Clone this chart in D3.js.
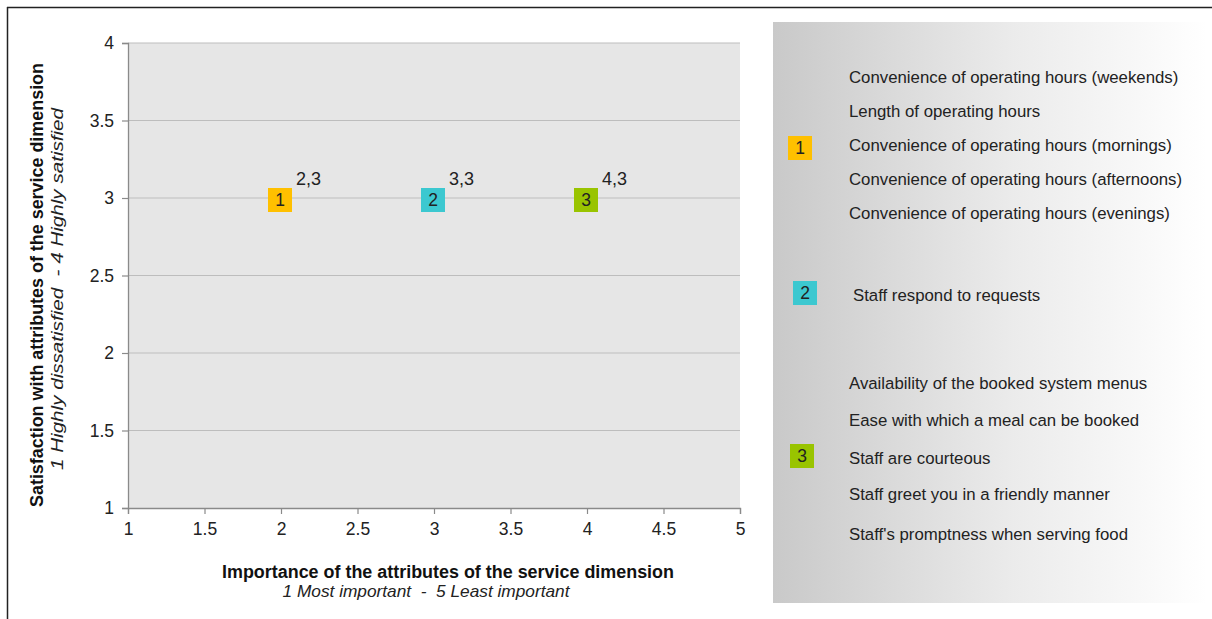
<!DOCTYPE html>
<html>
<head>
<meta charset="utf-8">
<script src="https://cdn.jsdelivr.net/npm/d3@7"></script>
<style>
  html, body { margin: 0; padding: 0; background: #fff; }
  svg { display: block; font-family: "Liberation Sans", Arial, sans-serif; }
</style>
</head>
<body>
<svg id="chart" width="1212" height="619"></svg>
<script>
// Service-dimension groups: importance (x) vs satisfaction (y)
const groupIds = [1, 2, 3];
const importance = [2, 3, 4];
const satisfaction = [3, 3, 3];
const pointLabels = ["2,3", "3,3", "4,3"];
const groupColors = ["#ffc000", "#3cc8d0", "#99c400"];

const xTicks = [1, 1.5, 2, 2.5, 3, 3.5, 4, 4.5, 5];
const yTicks = [1, 1.5, 2, 2.5, 3, 3.5, 4];

const attrsGroup1 = [
  "Convenience of operating hours (weekends)",
  "Length of operating hours",
  "Convenience of operating hours (mornings)",
  "Convenience of operating hours (afternoons)",
  "Convenience of operating hours (evenings)"
];
const attrsGroup2 = ["Staff respond to requests"];
const attrsGroup3 = [
  "Availability of the booked system menus",
  "Ease with which a meal can be booked",
  "Staff are courteous",
  "Staff greet you in a friendly manner",
  "Staff's promptness when serving food"
];

const svg = d3.select("#chart");

// outer frame (top and left edges visible)
svg.append("line").attr("x1", 7).attr("y1", 7.5).attr("x2", 1212).attr("y2", 7.5)
  .attr("stroke", "#222").attr("stroke-width", 1.5);
svg.append("line").attr("x1", 7.5).attr("y1", 7).attr("x2", 7.5).attr("y2", 619)
  .attr("stroke", "#222").attr("stroke-width", 1.5);

const plot = { left: 128, right: 740, top: 43, bottom: 508 };
const x = d3.scaleLinear().domain([1, 5]).range([plot.left, plot.right]);
const y = d3.scaleLinear().domain([1, 4]).range([plot.bottom, plot.top]);

// plot background
svg.append("rect")
  .attr("x", plot.left).attr("y", plot.top)
  .attr("width", plot.right - plot.left).attr("height", plot.bottom - plot.top)
  .attr("fill", "#e6e6e6");

// horizontal gridlines
svg.append("g").selectAll("line")
  .data(yTicks.filter(d => d > 1))
  .join("line")
  .attr("x1", plot.left).attr("x2", plot.right)
  .attr("y1", d => y(d)).attr("y2", d => y(d))
  .attr("stroke", "#bdbdbd").attr("stroke-width", 1.2);

// axes
const xAxis = svg.append("g")
  .attr("transform", `translate(0,${plot.bottom})`)
  .call(d3.axisBottom(x).tickValues(xTicks).tickFormat(d3.format("")).tickSize(6).tickPadding(5));
const yAxis = svg.append("g")
  .attr("transform", `translate(${plot.left},0)`)
  .call(d3.axisLeft(y).tickValues(yTicks).tickFormat(d3.format("")).tickSize(6).tickPadding(8));

[xAxis, yAxis].forEach(a => {
  a.select(".domain").attr("stroke", "#8a8a8a").attr("stroke-width", 1.3);
  a.selectAll(".tick line").attr("stroke", "#8a8a8a").attr("stroke-width", 1.2);
  a.selectAll(".tick text").attr("fill", "#222").attr("font-size", 17.5)
    .attr("font-family", "'Liberation Sans', Arial, sans-serif");
});
xAxis.selectAll(".tick text").attr("dy", "0.9em");

// axis titles
svg.append("text")
  .attr("x", 448).attr("y", 578)
  .attr("text-anchor", "middle").attr("font-size", 17.5).attr("font-weight", "bold").attr("fill", "#111")
  .attr("textLength", 452).attr("lengthAdjust", "spacingAndGlyphs")
  .text("Importance of the attributes of the service dimension");
svg.append("text")
  .attr("x", 426).attr("y", 597)
  .attr("text-anchor", "middle").attr("font-size", 16.5).attr("font-style", "italic").attr("fill", "#222")
  .attr("xml:space", "preserve")
  .attr("textLength", 287).attr("lengthAdjust", "spacingAndGlyphs")
  .text("1 Most important  -  5 Least important");

svg.append("text")
  .attr("transform", "translate(43,285) rotate(-90)")
  .attr("text-anchor", "middle").attr("font-size", 17.5).attr("font-weight", "bold").attr("fill", "#111")
  .attr("textLength", 444).attr("lengthAdjust", "spacingAndGlyphs")
  .text("Satisfaction with attributes of the service dimension");
svg.append("text")
  .attr("transform", "translate(63,289) rotate(-90)")
  .attr("text-anchor", "middle").attr("font-size", 17).attr("font-style", "italic").attr("fill", "#222")
  .attr("xml:space", "preserve")
  .attr("textLength", 362).attr("lengthAdjust", "spacingAndGlyphs")
  .text("1 Highly dissatisfied  - 4 Highly satisfied");

// point markers
const points = groupIds.map((id, i) => ({
  id, x: importance[i], y: satisfaction[i], label: pointLabels[i], color: groupColors[i]
}));
const markerSize = 24;
const pg = svg.append("g").selectAll("g").data(points).join("g")
  .attr("transform", d => `translate(${x(d.x) - 1},${y(d.y) + 2})`);
pg.append("rect")
  .attr("x", -markerSize / 2).attr("y", -markerSize / 2)
  .attr("width", markerSize).attr("height", markerSize)
  .attr("fill", d => d.color);
pg.append("text")
  .attr("text-anchor", "middle").attr("dy", "0.36em")
  .attr("font-size", 17.5).attr("fill", "#222")
  .text(d => d.id);
pg.append("text")
  .attr("x", 16).attr("y", -15)
  .attr("font-size", 18).attr("fill", "#222")
  .text(d => d.label);

// legend panel with horizontal gradient
const defs = svg.append("defs");
const grad = defs.append("linearGradient").attr("id", "panelGrad")
  .attr("x1", "0%").attr("x2", "100%").attr("y1", "0%").attr("y2", "0%");
grad.append("stop").attr("offset", "0%").attr("stop-color", "#c9c9c9");
grad.append("stop").attr("offset", "55%").attr("stop-color", "#ebebeb");
grad.append("stop").attr("offset", "100%").attr("stop-color", "#ffffff");
svg.append("rect")
  .attr("x", 773).attr("y", 22).attr("width", 434).attr("height", 581)
  .attr("fill", "url(#panelGrad)");

const legendGroups = [
  { id: 1, color: groupColors[0], items: attrsGroup1, ys: [77, 111, 145, 179, 213], mx: 800, my: 148, tx: 849 },
  { id: 2, color: groupColors[1], items: attrsGroup2, ys: [295], mx: 805, my: 293, tx: 853 },
  { id: 3, color: groupColors[2], items: attrsGroup3, ys: [383, 420, 458, 494, 534], mx: 802, my: 456, tx: 849 }
];
const lg = svg.append("g").selectAll("g").data(legendGroups).join("g");
lg.append("rect")
  .attr("x", d => d.mx - 12).attr("y", d => d.my - 12)
  .attr("width", 24).attr("height", 24)
  .attr("fill", d => d.color);
lg.append("text")
  .attr("x", d => d.mx).attr("y", d => d.my).attr("dy", "0.36em")
  .attr("text-anchor", "middle").attr("font-size", 17.5).attr("fill", "#222")
  .text(d => d.id);
lg.each(function(d) {
  d3.select(this).selectAll("text.item").data(d.items).join("text")
    .attr("class", "item")
    .attr("x", d.tx).attr("y", (t, i) => d.ys[i]).attr("dy", "0.36em")
    .attr("font-size", 16.8).attr("fill", "#222")
    .text(t => t);
});
</script>
</body>
</html>
